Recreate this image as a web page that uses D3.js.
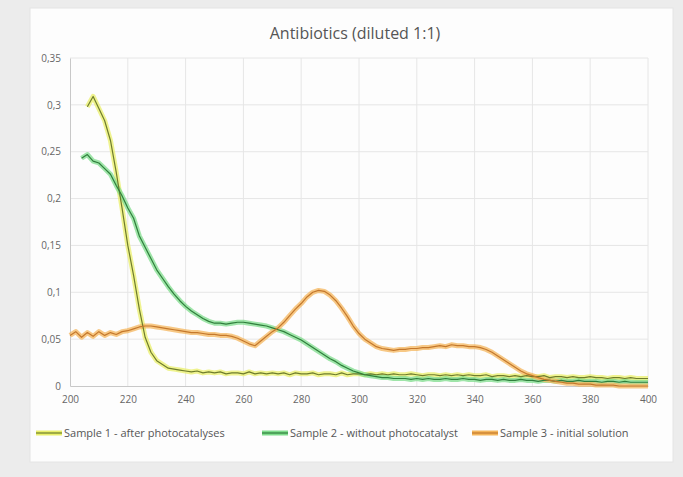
<!DOCTYPE html>
<html>
<head>
<meta charset="utf-8">
<script src="https://cdn.jsdelivr.net/npm/d3@7"></script>
<style>
  body { margin: 0; background: #ececec; }
  svg { display: block; font-family: "Open Sans", "Noto Sans", sans-serif; }
</style>
</head>
<body>
<svg></svg>
<script>
/* data (absorbance vs wavelength, nm) */
var wavelength = [
  200, 202, 204, 206, 208, 210, 212, 214, 216, 218,
  220, 222, 224, 226, 228, 230, 232, 234, 236, 238,
  240, 242, 244, 246, 248, 250, 252, 254, 256, 258,
  260, 262, 264, 266, 268, 270, 272, 274, 276, 278,
  280, 282, 284, 286, 288, 290, 292, 294, 296, 298,
  300, 302, 304, 306, 308, 310, 312, 314, 316, 318,
  320, 322, 324, 326, 328, 330, 332, 334, 336, 338,
  340, 342, 344, 346, 348, 350, 352, 354, 356, 358,
  360, 362, 364, 366, 368, 370, 372, 374, 376, 378,
  380, 382, 384, 386, 388, 390, 392, 394, 396, 398,
  400];

var sample1 = [
  null, null, null, 0.298, 0.309, 0.296, 0.283, 0.262, 0.228, 0.190,
  0.150, 0.118, 0.082, 0.052, 0.036, 0.027, 0.023, 0.019, 0.018, 0.017,
  0.016, 0.015, 0.016, 0.014, 0.015, 0.014, 0.015, 0.013, 0.014, 0.014,
  0.013, 0.015, 0.013, 0.014, 0.013, 0.014, 0.013, 0.014, 0.012, 0.014,
  0.013, 0.013, 0.014, 0.012, 0.013, 0.013, 0.012, 0.014, 0.012, 0.013,
  0.013, 0.012, 0.013, 0.012, 0.013, 0.012, 0.013, 0.012, 0.012, 0.013,
  0.012, 0.011, 0.012, 0.012, 0.011, 0.012, 0.011, 0.012, 0.011, 0.012,
  0.011, 0.011, 0.012, 0.010, 0.011, 0.011, 0.010, 0.011, 0.010, 0.011,
  0.010, 0.010, 0.011, 0.009, 0.010, 0.010, 0.009, 0.010, 0.009, 0.009,
  0.010, 0.009, 0.009, 0.008, 0.009, 0.009, 0.008, 0.009, 0.008, 0.008,
  0.008];

var sample2 = [
  null, null, 0.243, 0.247, 0.240, 0.238, 0.232, 0.226, 0.214, 0.203,
  0.190, 0.179, 0.160, 0.148, 0.136, 0.124, 0.115, 0.106, 0.098, 0.091,
  0.085, 0.080, 0.076, 0.072, 0.069, 0.067, 0.067, 0.066, 0.067, 0.068,
  0.068, 0.067, 0.066, 0.065, 0.064, 0.062, 0.060, 0.058, 0.055, 0.052,
  0.049, 0.045, 0.041, 0.037, 0.033, 0.029, 0.026, 0.022, 0.019, 0.016,
  0.014, 0.012, 0.011, 0.010, 0.009, 0.009, 0.008, 0.008, 0.008, 0.007,
  0.008, 0.007, 0.008, 0.007, 0.007, 0.008, 0.007, 0.007, 0.008, 0.007,
  0.007, 0.006, 0.007, 0.007, 0.006, 0.007, 0.006, 0.006, 0.007, 0.006,
  0.006, 0.005, 0.006, 0.006, 0.005, 0.006, 0.005, 0.005, 0.006, 0.005,
  0.005, 0.005, 0.004, 0.005, 0.005, 0.004, 0.005, 0.004, 0.004, 0.004,
  0.004];

var sample3 = [
  0.054, 0.058, 0.052, 0.057, 0.053, 0.058, 0.054, 0.057, 0.055, 0.058,
  0.059, 0.061, 0.063, 0.064, 0.064, 0.063, 0.062, 0.061, 0.060, 0.059,
  0.058, 0.057, 0.057, 0.056, 0.055, 0.055, 0.054, 0.054, 0.053, 0.051,
  0.048, 0.045, 0.043, 0.048, 0.053, 0.058, 0.062, 0.068, 0.075, 0.082,
  0.088, 0.095, 0.100, 0.102, 0.101, 0.097, 0.091, 0.083, 0.074, 0.064,
  0.056, 0.050, 0.046, 0.042, 0.040, 0.039, 0.038, 0.039, 0.039, 0.040,
  0.040, 0.041, 0.041, 0.042, 0.043, 0.042, 0.044, 0.043, 0.043, 0.042,
  0.042, 0.041, 0.039, 0.036, 0.032, 0.028, 0.024, 0.020, 0.016, 0.013,
  0.011, 0.009, 0.007, 0.006, 0.005, 0.004, 0.003, 0.003, 0.002, 0.002,
  0.002, 0.001, 0.001, 0.001, 0.001, 0.000, 0.000, 0.000, 0.000, 0.000,
  0.000];

var seriesNames = ["Sample 1 - after photocatalyses", "Sample 2 - without photocatalyst", "Sample 3 - initial solution"];
var xTicks = [200, 220, 240, 260, 280, 300, 320, 340, 360, 380, 400];
var yTicks = [0, 0.05, 0.1, 0.15, 0.2, 0.25, 0.3, 0.35];
var yTickLabels = ["0", "0,05", "0,1", "0,15", "0,2", "0,25", "0,3", "0,35"];
var title = "Antibiotics (diluted 1:1)";

/* styles */
var glowColors = ["#e9ef6a", "#7fdc8c", "#f4b65c"];
var lineColors = ["#6f7d2c", "#2f7f3c", "#c4782c"];

/* svg setting */
var svgWidth = 683;
var svgHeight = 477;
var margin = {top: 58, right: 35, bottom: 91, left: 70};
var width = svgWidth - margin.left - margin.right;
var height = svgHeight - margin.top - margin.bottom;
var scale = {};

var svg = d3.select("svg")
    .attr('width', svgWidth)
    .attr('height', svgHeight);

/* chart box */
svg.append('rect')
    .attr('x', 30).attr('y', 8)
    .attr('width', 643).attr('height', 454)
    .attr('fill', '#fdfdfd')
    .attr('stroke', '#e4e4e4');

svg.append('text')
    .attr('x', 355).attr('y', 39)
    .attr('text-anchor', 'middle')
    .attr('font-size', 16)
    .attr('fill', '#555')
    .text(title);

var g = svg.append('g')
    .attr('transform', translate(margin.left, margin.top));

setScale();
drawGrid();
drawAxis();
drawLines();
drawLegend();

function setScale(){
  scale.x = d3.scaleLinear()
      .domain([200, 400])
      .range([0, width]);
  scale.y = d3.scaleLinear()
      .domain([0, 0.35])
      .range([height, 0]);
}

function drawGrid(){
  g.append('g')
      .selectAll('line.h')
      .data(yTicks.slice(1))
      .enter()
      .append('line')
      .attr('x1', 0).attr('x2', width)
      .attr('y1', function(d){return scale.y(d)})
      .attr('y2', function(d){return scale.y(d)})
      .attr('stroke', '#e6e6e6');
  g.append('g')
      .selectAll('line.v')
      .data(xTicks.slice(1))
      .enter()
      .append('line')
      .attr('x1', function(d){return scale.x(d)})
      .attr('x2', function(d){return scale.x(d)})
      .attr('y1', 0).attr('y2', height)
      .attr('stroke', '#e6e6e6');
}

function drawAxis(){
  var xAxis = g.append('g')
      .attr('transform', translate(0, height))
      .call(d3.axisBottom(scale.x).tickValues(xTicks).tickSize(0).tickPadding(10));
  var yAxis = g.append('g')
      .call(d3.axisLeft(scale.y).tickValues(yTicks).tickSize(0).tickPadding(9)
        .tickFormat(function(d, i){return yTickLabels[i]}));
  [xAxis, yAxis].forEach(function(a){
    a.select('.domain').attr('stroke', '#c8c8c8');
    a.selectAll('text').attr('fill', '#666').attr('font-size', 10)
        .attr('font-family', '"Open Sans", sans-serif');
  });
}

function drawLines(){
  var all = [sample1, sample2, sample3];
  var line = d3.line()
      .defined(function(d){return d.y !== null})
      .x(function(d){return scale.x(d.x)})
      .y(function(d){return scale.y(d.y)});
  all.forEach(function(s, k){
    var data = wavelength.map(function(w, i){return {x: w, y: s[i]}});
    g.append('path').datum(data)
        .attr('d', line)
        .attr('fill', 'none')
        .attr('stroke', glowColors[k])
        .attr('stroke-width', 5)
        .attr('stroke-opacity', 0.75)
        .attr('stroke-linejoin', 'round');
  });
  all.forEach(function(s, k){
    var data = wavelength.map(function(w, i){return {x: w, y: s[i]}});
    g.append('path').datum(data)
        .attr('d', line)
        .attr('fill', 'none')
        .attr('stroke', lineColors[k])
        .attr('stroke-width', 1.2)
        .attr('stroke-linejoin', 'round');
  });
}

function drawLegend(){
  var legendX = [36, 262, 472];
  var legendY = 433;
  var items = svg.append('g')
      .selectAll('g')
      .data(seriesNames)
      .enter()
      .append('g')
      .attr('transform', function(d, i){return translate(legendX[i], legendY)});
  items.append('line')
      .attr('x1', 0).attr('x2', 26)
      .attr('stroke', function(d, i){return glowColors[i]})
      .attr('stroke-width', 5);
  items.append('line')
      .attr('x1', 0).attr('x2', 26)
      .attr('stroke', function(d, i){return lineColors[i]})
      .attr('stroke-width', 1.2);
  items.append('text')
      .attr('x', 28).attr('y', 4)
      .attr('font-size', 11)
      .attr('fill', '#555')
      .text(function(d){return d});
}

function translate(x, y) {
  return 'translate(' + x + ',' + y + ')';
}
</script>
</body>
</html>
